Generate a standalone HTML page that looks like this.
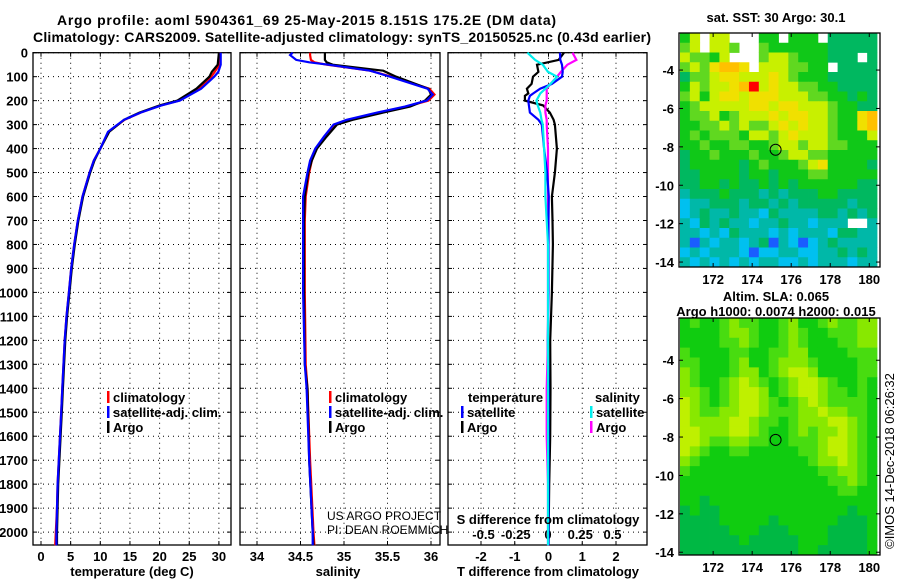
<!DOCTYPE html>
<html><head><meta charset="utf-8"><style>
body{margin:0;background:#fff}
svg{display:block;font-family:"Liberation Sans",sans-serif;font-weight:bold;font-size:13px}
</style></head><body>
<svg id="c" width="900" height="580" viewBox="0 0 900 580">
<text x="57" y="25" textLength="499" font-size="14">Argo profile: aoml 5904361_69 25-May-2015 8.151S 175.2E (DM data)</text>
<text x="33" y="42" textLength="618" font-size="14">Climatology: CARS2009. Satellite-adjusted climatology: synTS_20150525.nc (0.43d earlier)</text>
<g id="g"></g>
</svg>
<script>
// ---- profile data ----
const tDepth=[0,50,80,100,150,200,220,250,280,300,330,400,450,500,600,700,800,900,1000,1100,1200,1300,1400,1500,1600,1700,1800,1900,2000,2055];
const tArgo=[30,29.8,28.8,28.4,26.2,23,20,16.6,14,13,11.5,10,9,8.3,7.1,6.3,5.7,5.2,4.8,4.4,4.1,3.9,3.7,3.5,3.3,3.1,2.9,2.8,2.7,2.7];
const tClim=[30.2,30.1,29.3,28.7,26.6,23.3,20.2,16.8,14.1,13,11.4,10,8.9,8.2,7.0,6.2,5.6,5.1,4.7,4.3,4.0,3.8,3.6,3.4,3.2,3.0,2.8,2.7,2.5,2.4];
const tSat=[30.3,30.3,29.9,29.2,27,23.4,20.3,16.8,14,12.9,11.3,10,8.9,8.2,7.0,6.2,5.6,5.1,4.7,4.3,4.0,3.8,3.6,3.4,3.2,3.0,2.8,2.7,2.6,2.6];
const sDepth=[0,10,30,40,50,75,100,150,175,200,225,250,280,300,350,400,450,500,600,700,1000,1300,1400,1700,2000,2055];
const sArgo=[34.78,34.78,34.78,34.8,34.87,35.45,35.6,35.97,36.0,35.93,35.76,35.45,35.1,34.92,34.8,34.69,34.63,34.59,34.55,34.54,34.54,34.55,34.58,34.6,34.64,34.65];
const sClim=[34.61,34.61,34.62,34.66,34.8,35.3,35.55,35.98,36.04,35.97,35.72,35.4,35.05,34.89,34.78,34.68,34.63,34.6,34.56,34.55,34.55,34.56,34.58,34.61,34.65,34.66];
const sSat=[34.41,34.38,34.45,34.6,34.82,35.3,35.53,35.96,36.02,35.95,35.7,35.38,35.03,34.88,34.77,34.67,34.61,34.58,34.53,34.53,34.53,34.55,34.57,34.6,34.64,34.64];
const dDepth=[0,30,50,80,100,130,150,170,180,200,220,250,280,300,400,500,600,700,800,1000,1200,1400,1600,1800,2055];
const dTArgo=[0.46,0.3,-0.34,-0.3,-0.46,-0.5,-0.64,-0.6,-0.7,-0.7,-0.16,0.04,0.15,0.19,0.25,0.19,0.1,0.12,0.13,0.1,0.05,0.06,0.05,0.02,0.0];
const dTSat=[0.34,0.35,0.4,0.42,0.4,0.1,-0.25,-0.45,-0.55,-0.6,-0.58,-0.55,-0.3,-0.2,-0.13,-0.04,0.01,0.0,0.0,0.0,-0.02,0.0,0.0,0.0,0.0];
const dSArgo=[0.19,0.22,0.15,0.1,0.07,0.02,-0.01,-0.01,-0.01,-0.01,-0.02,-0.02,-0.01,-0.01,0,0,0,0,0,0,0,-0.01,-0.01,0,0];
const dSSat=[-0.16,-0.1,-0.04,0.0,0.07,0.02,-0.02,-0.06,-0.07,-0.09,-0.08,-0.06,-0.05,-0.04,-0.03,-0.02,-0.02,-0.01,0,0,0,0,0,0,0];
const depthTicks=[0,100,200,300,400,500,600,700,800,900,1000,1100,1200,1300,1400,1500,1600,1700,1800,1900,2000];
const tTicks=[0,5,10,15,20,25,30];
const sTicks=[34,34.5,35,35.5,36];
const sTickLabels=["34","34.5","35","35.5","36"];
const dTTicks=[-2,-1,0,1,2];
const dSTicks=[-0.5,-0.25,0,0.25,0.5];
const dSTickLabels=["-0.5","-0.25","0","0.25","0.5"];
// ---- map data ----
const mapLonTicks=[172,174,176,178,180];
const mapLatTicks=[-4,-6,-8,-10,-12,-14];
const sstRows=["46 66   44 444 33333","56 665  544444433333","65546   5665444333 3","5657887 6665544 3333","35567766676544433333","46566789676655443333","56467767776665544343","45666667767766654433","45564566676776654478","44556565567676654478","45455546656766654446","44544554456656655444","34454445445665544444","34444434544456744443","33444434434445544444","33443433434344444433","23334333232333443333","12233323323233333233","12322322132222332323","21323221223221222  2","22121322212122213322","20212212302101232222","12122210112211223232","21212121221121222122"];
const slaRows=["bcbbcdccbbcdbbcdccdd","bbbbcddcbbcdcbbcccdd","bbbbccdcbbcdcbbbccdd","cbbbbccbbccddbbbbccc","ccbbbcdbbcdddcbbbbcc","dcbbbcddbcdeedbbbbcc","dcbbcdedcbcdeedcbbcb","ddcbcdeedbcdeedccbcb","edcbcdeedcbcdedccccb","edccddeedcccddeddccb","eddddeedccbcdddeedcb","eedddeedcbbcdcddedcb","eedccddccbbcccdeedcb","edcbbccbbbbbccdeedcb","dcbbbbbbbbbbbcddedcb","cbbbbbbbbbbbbbccddcb","bbbbbbbbbbbbbbbccdcb","bbbbbbbbbbbbbbbbccbb","bbabbbbbbbbbbbbbbbbb","abaabbbbbbbbbbbbbabb","aaaabbbbbabbbbbbaaab","aaaaabbbaaabbbbaaaab","aaaaaabaaaaabbbaaaab","aaaaaaaaaaaabbaaaaab"];
const floatLon=175.2, floatLat=-8.15;

const NS="http://www.w3.org/2000/svg";
const G=document.getElementById('g');
function mk(tag,at,parent){const e=document.createElementNS(NS,tag);for(const k in at)e.setAttribute(k,at[k]);(parent||G).appendChild(e);return e;}
function txt(x,y,s,anchor,extra){const e=mk('text',Object.assign({x:x,y:y,'text-anchor':anchor||'start'},extra||{}));e.textContent=s;return e;}

const Y0=52.7,KY=0.2397,YB=545;
const yD=d=>Y0+d*KY;
const xT=t=>41+t*5.93;
const xS=s=>257+(s-34)*87;
const xDT=v=>548.5+v*33.75;
const xDS=v=>548+v*129;
const panels=[[33,231],[240,440],[448,647]];

panels.forEach((p,i)=>{
  depthTicks.forEach(d=>{const l=mk('line',{x1:p[0],x2:p[1],y1:yD(d),y2:yD(d),stroke:'#000','stroke-dasharray':'1,4'});
    
    
    mk('line',{x1:p[0],x2:p[0]+4,y1:yD(d),y2:yD(d),stroke:'#000'});mk('line',{x1:p[1]-4,x2:p[1],y1:yD(d),y2:yD(d),stroke:'#000'});});
});
depthTicks.forEach(d=>{const t=txt(28,yD(d)+5,String(d),'end');
  
  });
function xgrid(p,ticks,fx,labels,ly){
  ticks.forEach((v,i)=>{const x=fx(v);mk('line',{x1:x,x2:x,y1:Y0,y2:YB,stroke:'#000','stroke-dasharray':'1,4'});
    mk('line',{x1:x,x2:x,y1:YB-4,y2:YB,stroke:'#000'});mk('line',{x1:x,x2:x,y1:Y0,y2:Y0+4,stroke:'#000'});
    const t=txt(x,ly,labels?labels[i]:String(v),'middle');
    
    });
}
xgrid(panels[0],tTicks,xT,null,561);
xgrid(panels[1],sTicks,xS,sTickLabels,561);
xgrid(panels[2],dTTicks,xDT,null,561);
dSTicks.forEach((v,i)=>{const t=txt(xDS(v),539,dSTickLabels[i],'middle');
  
  });
panels.forEach((p,i)=>{const r=mk('rect',{x:p[0],y:Y0,width:p[1]-p[0],height:YB-Y0,fill:'none',stroke:'#000','stroke-width':1.3});
  
  });

function line(ds,vs,fx,col,name,w){
  const pts=ds.map((d,i)=>fx(vs[i]).toFixed(1)+','+yD(d).toFixed(1)).join(' ');
  const e=mk('polyline',{points:pts,fill:'none',stroke:col,'stroke-width':w||2.2});
  
  
}
line(tDepth,tClim,xT,'#f00','temp-climatology-line');
line(tDepth,tArgo,xT,'#000','temp-argo-line');
line(tDepth,tSat,xT,'#00f','temp-satellite-line');
line(sDepth,sClim,xS,'#f00','sal-climatology-line');
line(sDepth,sArgo,xS,'#000','sal-argo-line');
line(sDepth,sSat,xS,'#00f','sal-satellite-line');
line(dDepth,dTArgo,xDT,'#000','tdiff-argo-line');
line(dDepth,dSArgo,xDS,'#f0f','sdiff-argo-line');
line(dDepth,dTSat,xDT,'#00f','tdiff-satellite-line');
line(dDepth,dSSat,xDS,'#0ee','sdiff-satellite-line');

function leg(x,y,col,label,name){mk('rect',{x:x,y:y-11,width:2.5,height:12,fill:col});const t=txt(x+6,y,label);
  
  }
leg(107,402,'#f00','climatology','legend-climatology');
leg(107,417,'#00f','satellite-adj. clim.','legend-satellite-adj');
leg(107,432,'#000','Argo','legend-argo');
leg(329,402,'#f00','climatology','legend-climatology-2');
leg(329,417,'#00f','satellite-adj. clim.','legend-satellite-adj-2');
leg(329,432,'#000','Argo','legend-argo-2');
txt(468,402,'temperature');txt(595,402,'salinity');
leg(461,417,'#00f','satellite','legend-t-satellite');
leg(461,432,'#000','Argo','legend-t-argo');
leg(590,417,'#0ee','satellite','legend-s-satellite');
leg(590,432,'#f0f','Argo','legend-s-argo');
txt(327,520,'US ARGO PROJECT','start',{'font-weight':'normal','font-size':'12'});
txt(327,534,'PI: DEAN ROEMMICH','start',{'font-weight':'normal','font-size':'12'});
txt(548,524,'S difference from climatology','middle');
const a1=txt(132,576,'temperature (deg C)','middle');
const a2=txt(338,576,'salinity','middle');
const a3=txt(548,576,'T difference from climatology','middle');

const mx0=680,mx1=877,lonA=170.25,lonB=180.55;
const mxL=lon=>679+(lon-lonA)*(201/(lonB-lonA));
const sstCol={'0':'#1a5cff','1':'#00c0f0','2':'#00b8a8','3':'#00b860','4':'#10c818','5':'#60d820','6':'#c8f000','7':'#f0e000','8':'#ffc000','9':'#ff0000'};
const slaCol={'a':'#00b844','b':'#10cc10','c':'#48dc10','d':'#88e800','e':'#bff000'};
function drawMap(top,bot,latTop,rows,cols,name){
  const lat2y=l=>top+(latTop-l)*19.2;
  const g=mk('g',{});
  
  
  const nr=rows.length,nc=rows[0].length,cw=(mx1-mx0)/nc,ch=(bot-top)/nr;
  rows.forEach((r,i)=>{for(let j=0;j<nc;j++){const c=cols[r[j]];if(!c)continue;
    mk('rect',{x:mx0+j*cw,y:top+i*ch,width:cw+0.4,height:ch+0.4,fill:c},g);}});
  mk('rect',{x:679,y:top,width:201,height:bot-top,fill:'none',stroke:'#000','stroke-width':1.3},g);
  mapLatTicks.forEach(l=>{const y=lat2y(l);mk('line',{x1:679,x2:683,y1:y,y2:y,stroke:'#000'},g);mk('line',{x1:876,x2:880,y1:y,y2:y,stroke:'#000'},g);
    const t=txt(674,y+5,String(l),'end');
    
    });
  mapLonTicks.forEach(l=>{const x=mxL(l);mk('line',{x1:x,x2:x,y1:bot-4,y2:bot,stroke:'#000'},g);mk('line',{x1:x,x2:x,y1:top,y2:top+4,stroke:'#000'},g);
    const t=txt(x,bot+17,String(l),'middle');
    
    });
  const c=mk('circle',{cx:mxL(floatLon),cy:lat2y(floatLat),r:5.5,fill:'none',stroke:'#000','stroke-width':1},g);
  
  
}
drawMap(33,267,-2.07,sstRows,sstCol,'sst-map');
drawMap(318,555,-1.8,slaRows,slaCol,'sla-map');
txt(776,22,'sat. SST: 30 Argo: 30.1','middle');
txt(776,301,'Altim. SLA: 0.065','middle');
txt(776,316,'Argo h1000: 0.0074 h2000: 0.015','middle');
const cp=txt(0,0,'©IMOS 14-Dec-2018 06:26:32','middle',{'font-weight':'normal','font-size':'13',transform:'translate(894,461) rotate(-90)'});


</script>
</body></html>
